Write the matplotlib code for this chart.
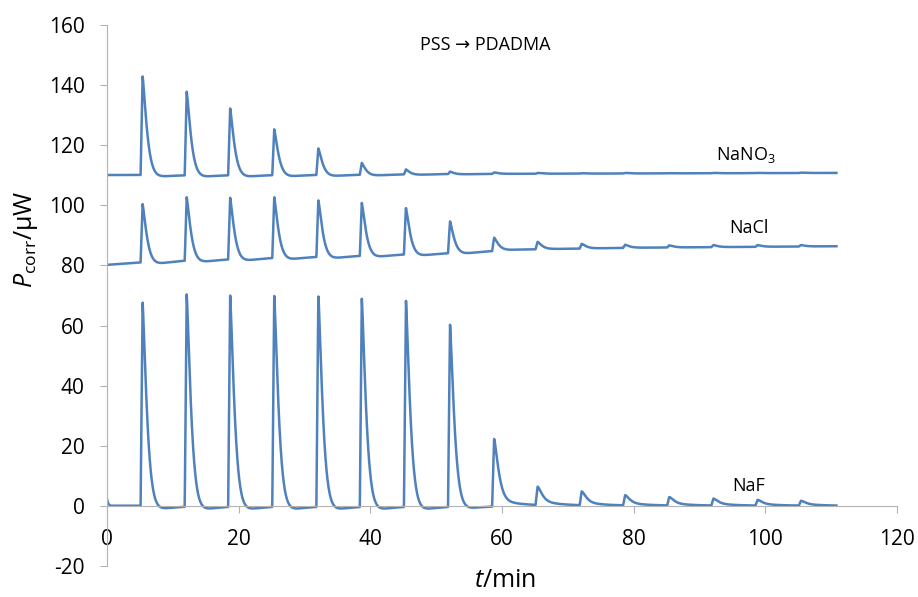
from matplotlib import pyplot as plt
import numpy as np

plt.rcParams['font.family'] = ['Open Sans', 'DejaVu Sans']
plt.rcParams['mathtext.fontset'] = 'custom'
plt.rcParams['mathtext.rm'] = 'Open Sans'
plt.rcParams['mathtext.it'] = 'Open Sans:italic'
plt.rcParams['axes.unicode_minus'] = False

# injection peaks (min)
t_peak = [5.4, 12.1, 18.7, 25.4, 32.1, 38.7, 45.4, 52.1,
          58.8, 65.4, 72.1, 78.7, 85.4, 92.1, 98.8, 105.4]
t_end = 110.8

# peak maxima / uW
nano3_peak = [143.0, 138.0, 132.5, 125.5, 119.2, 114.3, 112.1, 111.3,
              111.0, 110.8, 110.7, 110.8, 110.7, 110.8, 110.8, 110.9]
nacl_peak = [100.5, 102.9, 102.8, 102.9, 102.0, 101.1, 99.4, 94.9,
             89.4, 87.9, 87.2, 86.9, 86.7, 86.8, 86.8, 86.8]
naf_peak = [67.8, 70.7, 70.5, 70.2, 70.5, 69.5, 69.0, 60.8,
            22.5, 6.1, 4.6, 3.4, 2.8, 2.3, 1.9, 1.6]

# level just after each peak relative to baseline (dip < 0, tail > 0)
nano3_after = [-0.8, -0.8, -0.8, -0.7, -0.6, -0.4, -0.2, -0.1,
               0, 0, 0, 0, 0, 0, 0, 0]
nacl_after = [-0.9, -0.9, -0.9, -0.9, -0.9, -0.8, -0.8, -0.6,
              0, 0, 0, 0, 0, 0, 0, 0]
naf_after = [-1.5, -1.5, -1.5, -1.5, -1.5, -1.5, -1.5, -1.0,
             1.4, 0.8, 0.6, 0.5, 0.45, 0.4, 0.35, 0.3]

# baselines
nano3_base_t = [0, 30, 60, 110.8]
nano3_base_y = [110.1, 110.3, 110.5, 110.8]
nacl_base_t = [0, 5, 12, 25, 38, 52, 62, 80, 110.8]
nacl_base_y = [80.2, 81.0, 81.8, 82.7, 83.4, 84.3, 85.3, 85.9, 86.4]
naf_base_t = [0, 0.15, 0.5, 110.8]
naf_base_y = [2.3, 0.8, 0.05, 0.0]

t = np.linspace(0, t_end, 5000)


def trace(peaks, after, base_t, base_y, tau=0.85):
    y = np.interp(t, base_t, base_y)
    for tp, top, aft in zip(t_peak, peaks, after):
        h = top - np.interp(tp, base_t, base_y)
        dt = t - tp
        dtp = np.clip(dt, 0, None)
        rise = np.clip(1 + dt / 0.3, 0, 1) * (dt < 0)
        fall = np.exp(-(dtp / tau) ** 1.3) * (dt >= 0)
        y = y + h * (rise + fall)
        y = y + aft * (1 - np.exp(-dtp / 0.7)) * np.exp(-dtp / 3) / 0.5
    return y


fig = plt.figure(figsize=(9.18, 5.97), dpi=100)
ax = fig.add_axes([0.1166, 0.052, 0.8605, 0.906])

color = '#4f81bd'
ax.plot(t, trace(nano3_peak, nano3_after, nano3_base_t, nano3_base_y), color=color, lw=1.8)
ax.plot(t, trace(nacl_peak, nacl_after, nacl_base_t, nacl_base_y), color=color, lw=1.8)
ax.plot(t, trace(naf_peak, naf_after, naf_base_t, naf_base_y), color=color, lw=1.8)

ax.set_xlim(0, 120)
ax.set_ylim(-20, 160)
ax.set_xticks(np.arange(0, 121, 20))
ax.set_yticks(np.arange(-20, 161, 20))

ax.spines['top'].set_visible(False)
ax.spines['right'].set_visible(False)
ax.spines['bottom'].set_position(('data', 0))
for s in ['left', 'bottom']:
    ax.spines[s].set_color('#b3b3b3')
ax.tick_params(axis='both', colors='#b3b3b3', labelcolor='black', labelsize=15, length=5)
ax.tick_params(axis='x', pad=12)
ax.tick_params(axis='y', pad=11)

# axis titles
fig.text(0.55, 0.028, r'$\mathit{t}$/min', fontsize=18, ha='center', va='center')
fig.text(0.028, 1 - 288 / 597, r'$\mathit{P}_{\mathrm{corr}}$/μW', fontsize=18,
         rotation=90, ha='center', va='bottom')

ax.text(57.4, 153.4, 'PSS → PDADMA', fontsize=13, ha='center', va='center')
ax.text(97, 116.8, r'NaNO$_3$', fontsize=13, ha='center', va='center')
ax.text(97.5, 92.5, 'NaCl', fontsize=13, ha='center', va='center')
ax.text(97.5, 6.7, 'NaF', fontsize=13, ha='center', va='center')

fig.savefig('out.png', dpi=100)
